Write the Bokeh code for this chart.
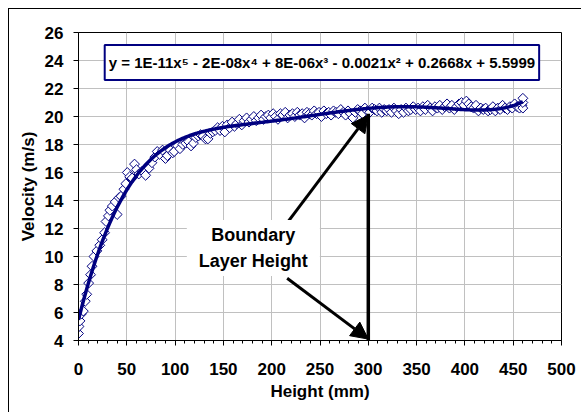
import numpy as np
from bokeh.plotting import figure
from bokeh.models import Range1d, FixedTicker, Label, Arrow, NormalHead
from bokeh.embed import file_html
from bokeh.resources import INLINE

# ---- data ----
height_mm = [0, 0.5, 1.5, 3, 5, 7, 8.5, 10.5, 12.5, 14, 16, 19, 22, 24.5, 27, 28.5, 31, 32.5, 35, 38,
             40, 42, 44, 47, 49, 50.5, 53, 55.5, 58, 60, 62.5, 66, 69.5, 73, 76, 79, 81.5, 84, 87, 90,
             92, 95, 97.5, 99, 102.5, 105, 108, 111, 114, 116.5, 119, 121.5, 124, 126.5, 129, 131.5, 134, 136.5, 139, 141.5,
             144,
             146.5, 149, 151.5, 154, 156.5, 159, 161.5, 164, 166.5, 169,
             171.5, 174, 176.5, 179, 181.5, 184, 186.5, 189, 191.5, 194,
             196.5, 199, 201.5, 204, 206.5, 209, 211.5, 214, 216.5, 219,
             221.5, 224, 226.5, 229, 231.5, 234, 236.5, 239, 241.5, 244,
             246.5, 249, 251.5, 254, 256.5, 259, 261.5, 264, 266.5, 269,
             271.5, 274, 276.5, 279, 281.5, 284, 286.5, 289, 291.5, 294,
             296.5, 299, 301.5, 304, 306.5, 309, 311.5, 314, 316.5, 319,
             321.5, 324, 326.5, 329, 331.5, 334, 336.5, 339, 341.5, 344,
             346.5, 349, 351.5, 354, 356.5, 359, 361.5, 364, 366.5, 369,
             371.5, 374, 376.5, 379, 381.5, 384, 386.5, 389, 391.5, 394,
             396.5, 399, 401.5, 404, 406.5, 409, 411.5, 414, 416.5, 419,
             421.5, 424, 426.5, 429, 431.5, 434, 436.5, 439, 441.5, 444,
             446.5, 449, 451.5, 454, 456.5, 459,
             460, 460, 460]
velocity = [4.5, 5.0, 5.4, 5.9, 6.1, 6.8, 7.3, 8.1, 8.7, 9.3, 10.0, 10.4, 10.8, 11.2, 11.7, 12.5, 12.9, 13.3, 13.6, 13.9,
            13.0, 14.2, 14.3, 14.8, 15.2, 16.0, 15.7, 15.6, 16.6, 16.2, 15.9, 16.1, 15.8, 16.3, 16.7, 17.1, 17.5, 17.3, 17.6, 17.0,
            17.2, 17.6, 17.4, 17.5, 17.9, 17.7, 18.0, 18.1, 18.2, 17.9, 18.1, 18.5, 18.6, 18.7, 18.6, 18.4, 18.4, 18.8, 18.9, 19.0,
            19.2,
            19.0, 19.3, 18.9, 19.4, 19.2, 19.6, 19.3, 19.5, 19.8, 19.4,
            19.7, 19.9, 19.6, 19.8, 20.0, 19.7, 19.9, 20.1, 19.8, 20.0,
            20.1, 19.9, 20.2, 20.0, 19.8, 20.2, 20.1, 20.3, 19.9, 20.1,
            20.2, 20.0, 20.3, 20.1, 20.2, 19.9, 20.3, 20.2, 20.1, 20.4,
            20.2, 20.3, 20.0, 20.4, 20.2, 20.3, 20.1, 20.4, 20.3, 20.2,
            20.5, 20.3, 20.1, 20.4, 20.2, 19.9, 20.3, 20.5, 20.4, 20.2,
            20.6, 20.4, 20.3, 20.6, 20.5, 20.4, 20.6, 20.3, 20.5, 20.4,
            20.5, 20.3, 20.6, 20.4, 20.2, 20.5, 20.3, 20.6, 20.4, 20.5,
            20.7, 20.5, 20.6, 20.4, 20.7, 20.5, 20.8, 20.6, 20.4, 20.7,
            20.6, 20.8, 20.5, 20.7, 20.9, 20.6, 20.8, 20.5, 20.7, 20.9,
            21.0, 20.8, 21.1, 20.9, 20.7, 20.6, 20.8, 20.4, 20.6, 20.5,
            20.6, 20.4, 20.5, 20.7, 20.4, 20.6, 20.5, 20.8, 20.6, 20.5,
            20.7, 20.6, 20.9, 20.7, 20.6, 20.8,
            20.6, 21.0, 21.3]

x_ticks = [0, 50, 100, 150, 200, 250, 300, 350, 400, 450, 500]
y_ticks = [4, 6, 8, 10, 12, 14, 16, 18, 20, 22, 24, 26]
equation = "y = 1E-11x\u2075 - 2E-08x\u2074 + 8E-06x\u00b3 - 0.0021x\u00b2 + 0.2668x + 5.5999"
boundary_height = 300

FONT = "Liberation Sans"
NAVY = "#000080"

p = figure(width=573, height=404, x_range=Range1d(0, 500), y_range=Range1d(4, 26),
           output_backend="svg", toolbar_location=None,
           min_border_left=69, min_border_right=21, min_border_top=23, min_border_bottom=73)
p.styles = {"margin-left": "8px", "margin-top": "8px",
            "border-left": "1px solid black", "border-top": "1px solid black"}
p.background_fill_color = "white"
p.border_fill_color = "white"
p.outline_line_color = "black"
p.outline_line_width = 1

p.xaxis.ticker = FixedTicker(ticks=x_ticks, minor_ticks=list(range(0, 501, 10)))
p.yaxis.ticker = FixedTicker(ticks=y_ticks)
for ax in (p.xaxis, p.yaxis):
    ax.axis_line_color = "black"
    ax.major_tick_line_color = "black"
    ax.major_tick_in = 0
    ax.major_tick_out = 5
    ax.major_label_text_font = FONT
    ax.major_label_text_font_style = "bold"
    ax.major_label_text_font_size = "17px"
    ax.major_label_text_color = "black"
    ax.axis_label_text_font = FONT
    ax.axis_label_text_font_style = "bold"
    ax.axis_label_text_font_size = "17px"
    ax.axis_label_text_color = "black"
p.xaxis.minor_tick_line_color = "black"
p.xaxis.minor_tick_in = 0
p.xaxis.minor_tick_out = 3
p.yaxis.minor_tick_line_color = None
p.xaxis.major_label_standoff = 17
p.yaxis.major_label_standoff = 10
p.xaxis.axis_label = "Height (mm)"
p.yaxis.axis_label = "Velocity (m/s)"
p.xaxis.axis_label_standoff = 4
p.yaxis.axis_label_standoff = 4

p.xgrid.grid_line_color = "#C0C0C0"
p.ygrid.grid_line_color = "#C0C0C0"
p.xgrid.grid_line_width = 1
p.ygrid.grid_line_width = 1

# data points
p.scatter(height_mm, velocity, marker="square", angle=np.pi / 4, size=7,
          line_color=NAVY, fill_color="white", line_width=1)

# 5th-order polynomial trendline fitted to the data
coef = np.polyfit(height_mm, velocity, 5)
xs = np.linspace(min(height_mm), max(height_mm), 300)
p.line(xs, np.polyval(coef, xs), line_color=NAVY, line_width=3.5)

# equation box
p.add_layout(Label(x=252, y=23.85, text=equation, text_align="center", text_baseline="middle",
                   text_font=FONT, text_font_style="bold", text_font_size="15px", text_color="black",
                   background_fill_color="white", border_line_color=NAVY, border_line_width=2,
                   padding=dict(left=4, right=4, top=9, bottom=9)))

# boundary layer annotation
p.segment(x0=[boundary_height], y0=[4], x1=[boundary_height], y1=[20.2], line_color="black", line_width=3.5)
p.add_layout(Arrow(x_start=216, y_start=12.4, x_end=boundary_height, y_end=20.1, line_width=3,
                   line_color="black",
                   end=NormalHead(size=17, fill_color="black", line_color="black")))
p.add_layout(Arrow(x_start=216, y_start=8.45, x_end=boundary_height, y_end=4.1, line_width=3,
                   line_color="black",
                   end=NormalHead(size=17, fill_color="black", line_color="black")))
p.add_layout(Label(x=181, y=10.6, text="Boundary\nLayer Height", text_align="center",
                   text_baseline="middle", text_font=FONT, text_font_style="bold",
                   text_font_size="18px", text_color="black", text_line_height=1.3,
                   background_fill_color="white",
                   padding=dict(left=12, right=12, top=5, bottom=5)))

open("out.html", "w").write(file_html(p, INLINE))
